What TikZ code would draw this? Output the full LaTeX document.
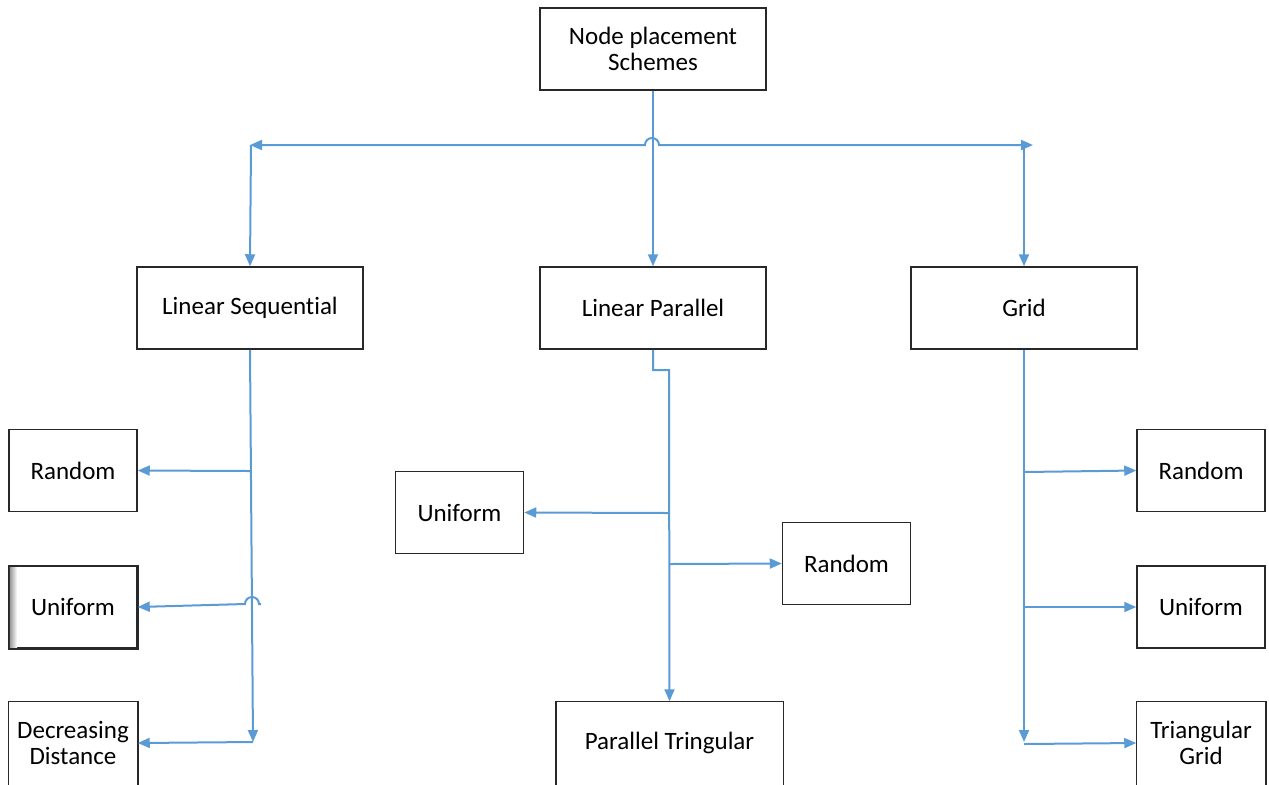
\documentclass[tikz,border=0pt]{standalone}
\usepackage{fontspec}
\setmainfont[Ligatures=CommonOff]{Carlito}
\usetikzlibrary{arrows.meta}
\definecolor{linkblue}{RGB}{91,155,213}
\definecolor{boxline}{RGB}{40,40,40}
\tikzset{
  box/.style={draw=boxline,line width=0.75pt,fill=white,align=center,inner sep=0pt,
    font=\fontsize{12.5}{13}\selectfont},
  bigbox/.style={box,minimum width=113pt,minimum height=41pt},
  smallbox/.style={box,minimum width=64pt,minimum height=41pt},
  openbox/.style={draw=none},
  edge3/.style={draw=boxline,line width=0.75pt},
  conn/.style={draw=linkblue,line width=1pt},
  arr/.style={conn,-{Triangle[length=6pt,width=5pt]}},
  darr/.style={conn,{Triangle[length=6pt,width=5pt]}-{Triangle[length=6pt,width=5pt]}}
}
\begin{document}
\begin{tikzpicture}[x=0.5pt,y=-0.5pt]
\useasboundingbox (0,0) rectangle (1269,784);
\clip (0,0) rectangle (1269,784);
% nodes
\node[bigbox] (top) at (653,49) {Node placement\\Schemes};
\node[bigbox] (ls) at (250,308) {Linear Sequential};
\node[bigbox] (lp) at (653,308) {Linear Parallel};
\node[bigbox] (grid) at (1024,308) {Grid};
\node[smallbox] (r1) at (73,470.5) {Random};
\node[smallbox] (u1) at (73,607) {Uniform};
\node[smallbox,openbox] (d1) at (73,743) {Decreasing\\Distance};
\node[smallbox] (u2) at (459.5,512.5) {Uniform};
\node[smallbox] (r2) at (846.5,563.5) {Random};
\node[bigbox,openbox] (pt) at (669.5,743) {Parallel Tringular};
\node[smallbox] (r3) at (1201,470.5) {Random};
\node[smallbox] (u3) at (1201,607) {Uniform};
\node[smallbox,openbox] (t3) at (1201,743) {Triangular\\Grid};
% open-bottom boxes cut by the page edge
\foreach \n in {d1,pt,t3}
  \draw[edge3] ([yshift=-6pt]\n.south west) -- (\n.north west) -- (\n.north east) -- ([yshift=-6pt]\n.south east);
% shadow on left Uniform box
\shade[left color=black!40,right color=white] (9.8,567) rectangle (17,647);
\draw[edge3] (u1.north west) rectangle (u1.south east);
% coordinates
\coordinate (busL) at (250,145);
\coordinate (busR) at (1033,145);
\coordinate (hopA) at (645,145);
\coordinate (lsTop) at (251,145);
\coordinate (grTop) at (1024,145);
\coordinate (lsEnd) at (253,742);
\coordinate (lsR) at (250,471);
\coordinate (lsU) at (261,604);
\coordinate (lsUa) at (259,604);
\coordinate (lpBend) at (669,370);
\coordinate (lpU) at (669,513);
\coordinate (lpR) at (669,564);
\coordinate (grEnd) at (1024,742);
\coordinate (grR) at (1024,472);
\coordinate (grU) at (1024,607);
\coordinate (grT) at (1024,744);
% top level
\draw[arr] (top.south) -- (lp.north);
\draw[darr] (busL) -- (hopA) arc[start angle=180,end angle=0,radius=3.5pt] -- (busR);
\draw[arr] (lsTop) -- (ls.north);
\draw[arr] (grTop) -- (grid.north);
% linear sequential
\draw[arr] (ls.south) -- (lsEnd);
\draw[arr] (lsEnd) -- (d1.east);
\draw[arr] (lsR) -- (r1.east);
\draw[arr] (lsU) -- (lsUa) arc[start angle=0,end angle=180,radius=3.5pt] -- (u1.east);
% linear parallel
\draw[arr] (lp.south) |- (lpBend) -- (pt.north);
\draw[arr] (lpU) -- (u2.east);
\draw[arr] (lpR) -- (r2.west);
% grid
\draw[arr] (grid.south) -- (grEnd);
\draw[arr] (grR) -- (r3.west);
\draw[arr] (grU) -- (u3.west);
\draw[arr] (grT) -- (t3.west);
\end{tikzpicture}
\end{document}
